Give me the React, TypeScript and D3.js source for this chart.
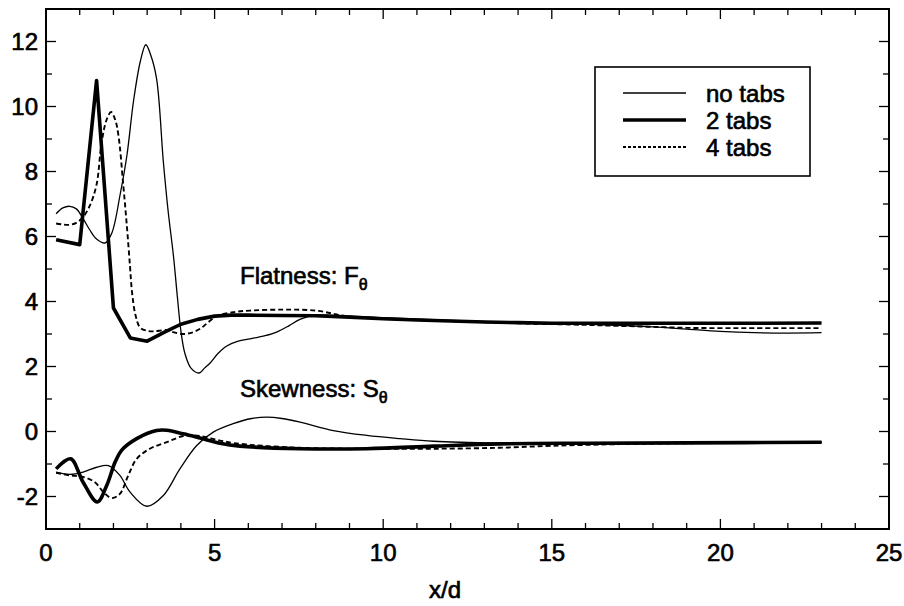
import React, { useEffect, useRef } from "react";
import * as d3 from "d3";

// flatness F_theta, [x/d, value]
const flatNoTabs: [number, number][] = [
  [0.3, 6.7], [0.5, 6.88], [0.7, 6.93], [0.9, 6.85], [1.1, 6.55], [1.3, 6.2], [1.5, 5.92],
  [1.75, 5.8], [1.95, 6.1], [2.2, 7.3], [2.4, 8.5], [2.6, 10.2], [2.8, 11.4], [2.96, 11.9],
  [3.1, 11.6], [3.28, 10.85], [3.48, 8.3], [3.62, 6.8], [3.78, 5.4], [3.9, 4.1], [4.0, 3.1],
  [4.12, 2.4], [4.3, 1.95], [4.54, 1.8], [4.7, 1.95], [4.86, 2.1], [5.1, 2.4], [5.36, 2.63],
  [5.7, 2.78], [6.05, 2.85], [6.5, 2.95], [6.84, 3.06], [7.2, 3.25], [7.53, 3.45], [8.0, 3.58],
  [9, 3.55], [10, 3.5], [12, 3.42], [14, 3.35], [16, 3.3], [18, 3.22], [19, 3.15], [20, 3.08],
  [21, 3.04], [22, 3.03], [23, 3.04],
];
const flatTwoTabs: [number, number][] = [
  [0.3, 5.9], [1.0, 5.75], [1.5, 10.8], [2.0, 3.8], [2.5, 2.88], [3.0, 2.78], [3.5, 3.05],
  [4.0, 3.3], [4.5, 3.45], [5.0, 3.55], [5.5, 3.58], [6, 3.58], [7, 3.57], [8, 3.56], [9, 3.52],
  [10, 3.47], [11, 3.43], [12, 3.4], [13, 3.37], [14, 3.35], [15, 3.33], [17, 3.33], [19, 3.33],
  [21, 3.33], [23, 3.34],
];
const flatFourTabs: [number, number][] = [
  [0.3, 6.4], [0.5, 6.37], [0.7, 6.36], [0.9, 6.42], [1.1, 6.6], [1.3, 6.95], [1.5, 7.6],
  [1.65, 8.9], [1.8, 9.6], [1.93, 9.83], [2.05, 9.6], [2.15, 9.1], [2.29, 7.6], [2.4, 6.3],
  [2.49, 5.1], [2.55, 4.3], [2.65, 3.6], [2.79, 3.2], [3.0, 3.1], [3.18, 3.08], [3.58, 3.12],
  [3.8, 3.05], [4.07, 3.0], [4.35, 3.05], [4.57, 3.16], [4.8, 3.35], [5.06, 3.55], [5.55, 3.67],
  [6.05, 3.72], [7, 3.75], [8, 3.72], [8.9, 3.55], [10, 3.47], [12, 3.4], [14, 3.33], [16, 3.28],
  [17, 3.25], [18, 3.22], [19, 3.19], [20, 3.18], [21, 3.18], [23, 3.18],
];

// skewness S_theta
const skewNoTabs: [number, number][] = [
  [0.3, -1.25], [0.71, -1.32], [1.1, -1.25], [1.5, -1.1], [1.85, -1.05], [2.19, -1.35],
  [2.49, -1.86], [2.99, -2.3], [3.48, -1.97], [3.97, -1.15], [4.47, -0.43], [4.96, -0.02],
  [5.55, 0.24], [6.1, 0.4], [6.54, 0.44], [7.0, 0.4], [7.53, 0.29], [8.52, 0.03], [9.51, -0.12],
  [10.5, -0.22], [11.49, -0.3], [13.46, -0.36], [16, -0.38], [19, -0.36], [21, -0.34], [23, -0.33],
];
const skewTwoTabs: [number, number][] = [
  [0.3, -1.15], [0.73, -0.84], [1.1, -1.56], [1.52, -2.17], [1.8, -1.66], [2.05, -0.94],
  [2.24, -0.58], [2.69, -0.22], [3.28, 0.03], [3.58, 0.04], [4.07, -0.07], [4.57, -0.2],
  [5.16, -0.36], [5.75, -0.45], [7.53, -0.53], [9.51, -0.53], [11.5, -0.45], [13.46, -0.38],
  [16, -0.36], [19, -0.35], [23, -0.33],
];
const skewFourTabs: [number, number][] = [
  [0.3, -1.27], [0.71, -1.35], [1.1, -1.4], [1.45, -1.56], [1.7, -1.86], [1.95, -2.05],
  [2.19, -1.92], [2.44, -1.35], [2.69, -0.84], [3.08, -0.53], [3.58, -0.33], [4.07, -0.14],
  [4.57, -0.14], [5.16, -0.28], [5.75, -0.38], [7.5, -0.5], [9.5, -0.53], [11.5, -0.53],
  [13.46, -0.5], [15, -0.44], [17, -0.39], [20, -0.35], [23, -0.33],
];

const legendLabels = ["no tabs", "2 tabs", "4 tabs"];
const xTickLabels = [0, 5, 10, 15, 20, 25];
const yTickLabels = [-2, 0, 2, 4, 6, 8, 10, 12];

const FONT = "'Liberation Sans', Arial, Helvetica, sans-serif";

function App() {
  const chart = useRef<SVGSVGElement>(null);

  useEffect(() => {
    const width = 904;
    const height = 606;
    const plot = { left: 46, right: 889, top: 9, bottom: 529 };

    const svg = d3.select(chart.current)
      .attr("width", width)
      .attr("height", height)
      .style("position", "absolute")
      .style("left", 0)
      .style("top", 0)
      .style("background", "#fff");

    const x = d3.scaleLinear().domain([0, 25]).range([plot.left, plot.right]);
    const y = d3.scaleLinear().domain([-3, 13]).range([plot.bottom, plot.top]);

    const g = svg.append("g");

    // inward ticks on all four sides
    const ticks = g.append("g").attr("stroke", "#000").attr("stroke-width", 1.3);
    d3.range(0, 26, 1).forEach(v => {
      const len = v % 5 === 0 ? 10 : 6;
      ticks.append("line").attr("x1", x(v)).attr("x2", x(v)).attr("y1", plot.bottom).attr("y2", plot.bottom - len);
      ticks.append("line").attr("x1", x(v)).attr("x2", x(v)).attr("y1", plot.top).attr("y2", plot.top + len);
    });
    d3.range(-3, 14, 1).forEach(v => {
      const len = v % 2 === 0 ? 10 : 6;
      ticks.append("line").attr("x1", plot.left).attr("x2", plot.left + len).attr("y1", y(v)).attr("y2", y(v));
      ticks.append("line").attr("x1", plot.right).attr("x2", plot.right - len).attr("y1", y(v)).attr("y2", y(v));
    });

    // frame
    g.append("rect")
      .attr("x", plot.left)
      .attr("y", plot.top)
      .attr("width", plot.right - plot.left)
      .attr("height", plot.bottom - plot.top)
      .attr("fill", "none")
      .attr("stroke", "#000")
      .attr("stroke-width", 2);

    const textStyle = (sel: any, size = 24) => sel
      .attr("font-family", FONT)
      .attr("font-size", size)
      .attr("fill", "#000")
      .attr("stroke", "#000")
      .attr("stroke-width", 0.65);

    // tick labels
    g.selectAll(".xlab")
      .data(xTickLabels)
      .enter()
      .append("text")
      .attr("class", "xlab")
      .attr("x", d => x(d))
      .attr("y", 561)
      .attr("text-anchor", "middle")
      .text(d => d)
      .call(textStyle);

    g.selectAll(".ylab")
      .data(yTickLabels)
      .enter()
      .append("text")
      .attr("class", "ylab")
      .attr("x", 38)
      .attr("y", d => y(d) + 8.5)
      .attr("text-anchor", "end")
      .text(d => d)
      .call(textStyle);

    textStyle(g.append("text")
      .attr("x", 445)
      .attr("y", 598)
      .attr("text-anchor", "middle")
      .text("x/d"));

    // curves
    const smooth = d3.line<[number, number]>()
      .x(d => x(d[0]))
      .y(d => y(d[1]))
      .curve(d3.curveCatmullRom.alpha(0.5));
    const straight = d3.line<[number, number]>()
      .x(d => x(d[0]))
      .y(d => y(d[1]));

    const styles = [
      { width: 1.3, dash: null },
      { width: 3.6, dash: null },
      { width: 1.9, dash: "5,3" },
    ];
    const series = [
      { data: flatNoTabs, gen: smooth, s: 0 },
      { data: flatTwoTabs, gen: straight, s: 1 },
      { data: flatFourTabs, gen: smooth, s: 2 },
      { data: skewNoTabs, gen: smooth, s: 0 },
      { data: skewTwoTabs, gen: smooth, s: 1 },
      { data: skewFourTabs, gen: smooth, s: 2 },
    ];
    series.forEach(ser => {
      g.append("path")
        .attr("d", ser.gen(ser.data))
        .attr("fill", "none")
        .attr("stroke", "#000")
        .attr("stroke-width", styles[ser.s].width)
        .attr("stroke-dasharray", styles[ser.s].dash)
        .attr("stroke-linejoin", "round");
    });

    // annotations
    const flat = textStyle(g.append("text").attr("x", 240).attr("y", 284));
    flat.append("tspan").text("Flatness: F");
    flat.append("tspan").attr("font-size", 16).attr("dy", 6).text("θ");

    const skew = textStyle(g.append("text").attr("x", 240).attr("y", 397));
    skew.append("tspan").text("Skewness: S");
    skew.append("tspan").attr("font-size", 16).attr("dy", 6).text("θ");

    // legend
    const legend = g.append("g");
    legend.append("rect")
      .attr("x", 595)
      .attr("y", 67)
      .attr("width", 215)
      .attr("height", 109)
      .attr("fill", "#fff")
      .attr("stroke", "#000")
      .attr("stroke-width", 1.6);
    legendLabels.forEach((label, i) => {
      const ly = 93 + i * 27;
      legend.append("line")
        .attr("x1", 623)
        .attr("x2", 686)
        .attr("y1", ly)
        .attr("y2", ly)
        .attr("stroke", "#000")
        .attr("stroke-width", styles[i].width)
        .attr("stroke-dasharray", i === 2 ? "3,2" : null);
      textStyle(legend.append("text")
        .attr("x", 706)
        .attr("y", ly + 9)
        .text(label));
    });

    return () => {
      svg.selectAll("*").remove();
    };
  }, []);

  return <svg ref={chart}></svg>;
}

export default App;
